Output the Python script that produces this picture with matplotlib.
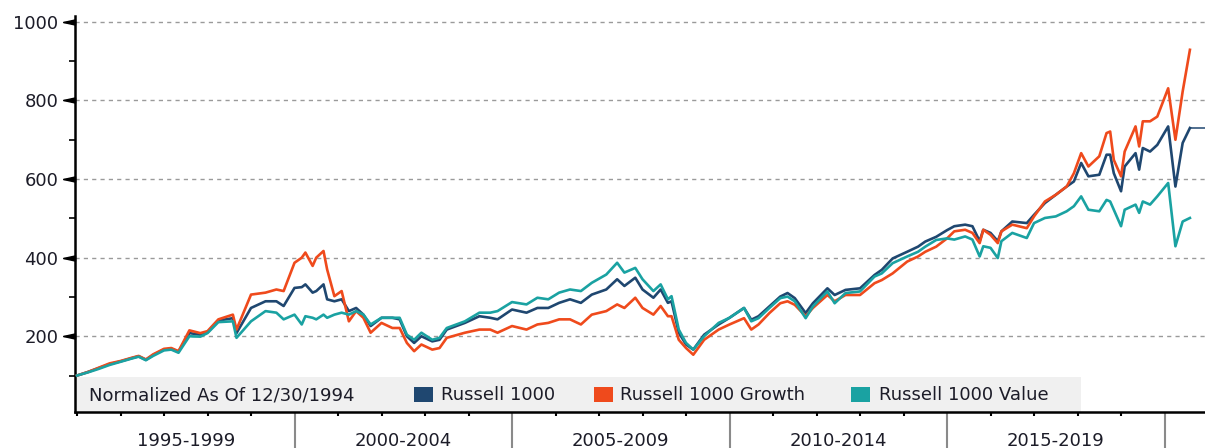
import numpy as np
import matplotlib
matplotlib.use("Agg")
import matplotlib.pyplot as plt
from matplotlib.path import Path
from matplotlib.patches import Rectangle
from matplotlib.transforms import blended_transform_factory

# month-end sample dates
months = [
    "1994-12", "1995-03", "1995-06", "1995-09", "1995-12", "1996-03", "1996-05", "1996-07",
    "1996-09", "1996-12", "1997-02", "1997-04", "1997-07", "1997-10", "1997-12", "1998-03",
    "1998-07", "1998-08", "1998-12", "1999-04", "1999-07", "1999-09", "1999-12", "2000-02",
    "2000-03", "2000-05", "2000-06", "2000-08", "2000-09", "2000-11", "2001-01", "2001-03",
    "2001-05", "2001-07", "2001-09", "2001-12", "2002-03", "2002-05", "2002-07", "2002-09",
    "2002-11", "2003-02", "2003-04", "2003-06", "2003-11", "2004-03", "2004-06", "2004-08",
    "2004-12", "2005-04", "2005-07", "2005-10", "2006-01", "2006-04", "2006-07", "2006-10",
    "2007-02", "2007-05", "2007-07", "2007-10", "2007-12", "2008-03", "2008-05", "2008-07",
    "2008-08", "2008-10", "2008-12", "2009-02", "2009-05", "2009-09", "2009-12", "2010-04",
    "2010-06", "2010-08", "2010-11", "2011-02", "2011-04", "2011-06", "2011-09", "2011-11",
    "2012-03", "2012-05", "2012-08", "2012-12", "2013-04", "2013-06", "2013-09", "2014-01",
    "2014-04", "2014-06", "2014-09", "2014-12", "2015-02", "2015-05", "2015-07", "2015-09",
    "2015-10", "2015-12", "2016-02", "2016-03", "2016-06", "2016-10", "2016-12", "2017-03",
    "2017-06", "2017-09", "2017-11", "2018-01", "2018-03", "2018-06", "2018-08", "2018-09",
    "2018-10", "2018-12", "2019-01", "2019-04", "2019-05", "2019-06", "2019-08", "2019-10",
    "2020-01", "2020-03", "2020-05", "2020-07",
]

russell_1000 = [
    100, 109, 119, 129, 136, 144, 149, 140, 152, 166, 168, 161, 208, 204, 210, 240,
    246, 208, 272, 289, 289, 277, 323, 325, 332, 311, 315, 332, 294, 289, 294, 264,
    272, 255, 226, 247, 247, 243, 200, 183, 200, 187, 191, 217, 234, 251, 247, 243,
    268, 260, 272, 272, 285, 294, 285, 306, 319, 345, 328, 349, 319, 298, 319, 285,
    289, 209, 179, 166, 204, 230, 247, 272, 242, 251, 276, 301, 310, 297, 259, 284,
    322, 305, 318, 322, 356, 369, 398, 415, 428, 441, 453, 470, 480, 484, 480, 442,
    471, 463, 442, 467, 492, 488, 509, 539, 560, 581, 594, 641, 607, 611, 662, 662,
    615, 569, 632, 666, 624, 679, 670, 687, 734, 581, 692, 730,
]

russell_growth = [
    100, 109, 120, 131, 137, 145, 150, 141, 154, 168, 170, 162, 215, 208, 213, 243,
    255, 217, 306, 311, 319, 315, 387, 400, 413, 379, 400, 417, 370, 302, 315, 238,
    264, 247, 209, 234, 221, 221, 183, 162, 179, 166, 170, 196, 209, 217, 217, 209,
    226, 217, 230, 234, 243, 243, 230, 255, 264, 281, 272, 298, 272, 255, 277, 251,
    251, 191, 170, 153, 191, 217, 230, 246, 217, 230, 259, 284, 289, 280, 251, 272,
    305, 289, 305, 305, 335, 343, 360, 390, 403, 415, 428, 449, 467, 471, 463, 437,
    471, 458, 437, 467, 484, 475, 505, 543, 560, 581, 615, 666, 632, 658, 717, 721,
    649, 607, 670, 734, 683, 747, 747, 759, 831, 700, 823, 929,
]

russell_value = [
    100, 108, 117, 127, 135, 143, 148, 139, 150, 164, 166, 158, 200, 199, 208, 236,
    238, 196, 238, 264, 260, 243, 255, 230, 251, 247, 243, 255, 247, 255, 260, 255,
    264, 255, 230, 247, 247, 247, 204, 191, 209, 191, 196, 221, 238, 260, 260, 264,
    287, 281, 298, 294, 311, 319, 315, 336, 357, 387, 362, 374, 345, 315, 332, 294,
    302, 217, 183, 166, 200, 234, 247, 272, 238, 246, 272, 297, 301, 289, 246, 276,
    314, 284, 310, 314, 352, 360, 386, 403, 415, 428, 445, 449, 446, 454, 446, 403,
    429, 425, 399, 442, 463, 450, 488, 501, 505, 518, 531, 556, 522, 518, 547, 543,
    522, 480, 522, 535, 514, 543, 535, 556, 590, 429, 492, 501,
]

series_names = ["Russell 1000", "Russell 1000 Growth", "Russell 1000 Value"]
series_colors = ["#1f4770", "#ef4a1c", "#1aa2a2"]
legend_title = "Normalized As Of 12/30/1994"
period_labels = ["1995-1999", "2000-2004", "2005-2009", "2010-2014", "2015-2019"]

W, H = 1205, 448
TEXT = "#1c1c28"
FS = 13


def fx(px):
    return px / W


def fy(py):
    return 1 - py / H


t = np.array([int(m[:4]) + int(m[5:]) / 12 for m in months])
x_end = 2020.93

fig = plt.figure(figsize=(W / 100, H / 100), dpi=100)
ax = fig.add_axes([fx(75), fy(411.7), fx(1205 - 75), (411.7 - 16) / H])

for vals, color in zip([russell_1000, russell_growth, russell_value], series_colors):
    ax.plot(t, vals, color=color, lw=1.9, solid_joinstyle="round", zorder=3)

# last value carried to the right edge
ax.plot([t[-1], x_end], [russell_1000[-1], russell_1000[-1]], color=series_colors[0], lw=1.1, zorder=3)

ax.set_xlim(1994.954, x_end)
ax.set_ylim(8, 1015)

# y axis
ax.set_yticks([200, 400, 600, 800, 1000])
ax.set_yticks([100, 300, 500, 700, 900], minor=True)
ax.tick_params(axis="y", which="major", length=8.6, width=1, color="black", pad=3.5,
               labelsize=FS, labelcolor=TEXT)
ax.tick_params(axis="y", which="minor", length=4.5, width=1.2, color="black")
ax.grid(axis="y", which="major", color="#9a9a9a", lw=1, linestyle=(0, (3, 3)), zorder=0)

wedge = Path([(0, 0.22), (0, -0.22), (-1, 0), (0, 0.22)],
             [Path.MOVETO, Path.LINETO, Path.LINETO, Path.CLOSEPOLY])
trans_y = blended_transform_factory(ax.transAxes, ax.transData)
ax.plot([0] * 5, [200, 400, 600, 800, 1000], linestyle="none", marker=wedge, markersize=17,
        color="black", transform=trans_y, clip_on=False, zorder=5)

# x axis: yearly minor ticks, 5-year separators
ax.set_xticks([2000, 2005, 2010, 2015, 2020])
ax.set_xticks(np.arange(1995, 2021), minor=True)
ax.set_xticklabels([])
ax.tick_params(axis="x", which="major", length=26, width=1.5, color="#8a8a8a")
ax.tick_params(axis="x", which="minor", length=3.2, width=1.5, color="black")

trans_x = blended_transform_factory(ax.transData, ax.transAxes)
for i, lab in enumerate(period_labels):
    ax.text(1997.5 + 5 * i, -(441 - 411.7) / (411.7 - 16), lab, transform=trans_x,
            ha="center", va="center", fontsize=FS, color=TEXT)

for side in ["top", "right"]:
    ax.spines[side].set_visible(False)
ax.spines["left"].set_linewidth(1.8)
ax.spines["bottom"].set_linewidth(1.8)

# legend strip, kept under the spines
ax.add_patch(Rectangle((fx(75), fy(411.7)), fx(1081 - 75), (411.7 - 377) / H,
                       transform=fig.transFigure, facecolor="#f0f0f0",
                       edgecolor="none", zorder=2, clip_on=False))
ax.text(fx(89), fy(395), legend_title, transform=fig.transFigure, fontsize=FS,
        color=TEXT, va="center", zorder=4)
square_x = [414, 594, 851]
label_x = [441, 620, 879]
for sx, lx, name, color in zip(square_x, label_x, series_names, series_colors):
    ax.add_patch(Rectangle((fx(sx), fy(402)), fx(19), 15 / H, transform=fig.transFigure,
                           facecolor=color, edgecolor="none", zorder=4, clip_on=False))
    ax.text(fx(lx), fy(395), name, transform=fig.transFigure, fontsize=FS,
            color=TEXT, va="center", zorder=4)

fig.savefig("out.png", dpi=100)
